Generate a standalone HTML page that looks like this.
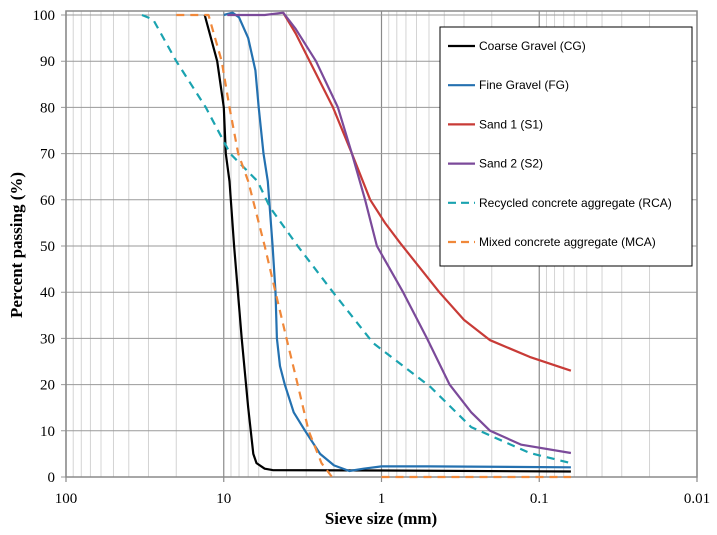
<!DOCTYPE html>
<html><head><meta charset="utf-8"><style>
body{margin:0;background:#fff;}
svg{display:block;}
</style></head><body>
<svg id="chart" width="717" height="535" xmlns="http://www.w3.org/2000/svg">
<g id="grid"></g>
<g id="axes"></g>
<g id="series"></g>
<text transform="translate(22,245) rotate(-90)" text-anchor="middle" font-family="Liberation Serif, serif" font-weight="bold" font-size="17">Percent passing (%)</text>
<text x="381" y="524" text-anchor="middle" font-family="Liberation Serif, serif" font-weight="bold" font-size="17">Sieve size (mm)</text>
<g id="legend"></g>
</svg>
<script>
const seriesNames=["Coarse Gravel (CG)","Fine Gravel (FG)","Sand 1 (S1)","Sand 2 (S2)","Recycled concrete aggregate (RCA)","Mixed concrete aggregate (MCA)"];
const seriesColors=["#000000","#2471b0","#c83b37","#7b4a9a","#1aa3b0","#f0883a"];
const cgSize=[13.2,11,10,9.7,9.2,8.6,7.7,7,6.5,6.2,5.5,4.9,1,0.063];
const cgPass=[100,90,80,70,64,50,30,15,5,3,1.8,1.5,1.4,1.2];
const fgSize=[10,8.8,8,7,6.3,6,5.6,5.26,4.9,4.7,4.6,4.4,4.1,3.6,3.05,2.45,2,1.6,1.3,1,0.5,0.063];
const fgPass=[100,100.5,99.5,95,88,80,70,64,50,40,30,24,20,14,10,5,2.5,1.3,1.8,2.3,2.3,2.1];
const s1Size=[4.2,3.5,2.03,1.54,1.18,0.95,0.76,0.43,0.3,0.205,0.115,0.063];
const s1Pass=[100.5,96,80,70,60,55,50.6,40,34,29.6,26,23];
const s2Size=[9.5,5.5,4.2,3.5,2.6,1.89,1.54,1.27,1.07,0.73,0.515,0.37,0.27,0.205,0.13,0.063];
const s2Pass=[100,100,100.5,97,90,80,70,60,50,40,30,20,14,10,7,5.2];
const rcaSize=[33,28,20,13,9.1,6.1,5.1,3.4,2.03,1.13,0.49,0.27,0.115,0.063];
const rcaPass=[100,99,90,80,70,64,58.4,50,40,29,19.5,10.8,5.2,3];
const mcaSize=[20,12.5,10.3,9.2,8.1,7,5.5,4.7,4,3.4,2.9,2.4,2.06,null,1,0.063];
const mcaPass=[100,100,90,80,70,64,50,40,30,20,10,3,0,null,0,0];
const xTicks=[100,10,1,0.1,0.01];
const xTickLabels=["100","10","1","0.1","0.01"];
const yTicks=[0,10,20,30,40,50,60,70,80,90,100];

const NS="http://www.w3.org/2000/svg";
const X0=66,X1=697,Y0=477,Y1=15,TOP=11;
function xs(v){return X0+(2-Math.log10(v))/4*(X1-X0);}
function ys(v){return Y0-v/100*(Y0-Y1);}
function mk(parent,tag,attrs){const e=document.createElementNS(NS,tag);for(const k in attrs)e.setAttribute(k,attrs[k]);parent.appendChild(e);return e;}
const grid=document.getElementById('grid'),axes=document.getElementById('axes'),ser=document.getElementById('series'),leg=document.getElementById('legend');
for(let d=100;d>0.011;d/=10){for(let m=2;m<=9;m++){const v=d/10*m;const x=xs(v);
const l=mk(grid,'line',{x1:x,x2:x,y1:TOP,y2:Y0,stroke:'#d4d4d4','stroke-width':1});

}}
xTicks.forEach((v,i)=>{const x=xs(v);
const l=mk(grid,'line',{x1:x,x2:x,y1:TOP,y2:Y0+5,stroke:'#8a8a8a','stroke-width':1.2});


const t=mk(axes,'text',{x:x,y:503,'text-anchor':'middle','font-family':'Liberation Serif, serif','font-size':15});
t.textContent=xTickLabels[i];

});
yTicks.forEach(v=>{const y=ys(v);
const l=mk(grid,'line',{x1:X0-5,x2:X1,y1:y,y2:y,stroke:'#9a9a9a','stroke-width':1});


const t=mk(axes,'text',{x:55,y:y+5,'text-anchor':'end','font-family':'Liberation Serif, serif','font-size':15});
t.textContent=v;

});
const frame=mk(axes,'rect',{x:X0,y:TOP,width:X1-X0,height:Y0-TOP,fill:'none',stroke:'#8a8a8a','stroke-width':1.5});


const all=[[cgSize,cgPass],[fgSize,fgPass],[s1Size,s1Pass],[s2Size,s2Pass],[rcaSize,rcaPass],[mcaSize,mcaPass]];
const dashed=[false,false,false,false,true,true];
all.forEach((s,i)=>{let d='',mv=true;
for(let j=0;j<s[0].length;j++){if(s[0][j]===null){mv=true;continue;}
d+=(mv?'M':'L')+xs(s[0][j]).toFixed(1)+','+ys(s[1][j]).toFixed(1);mv=false;}
const p=mk(ser,'path',{d:d,fill:'none',stroke:seriesColors[i],'stroke-width':2.2,'stroke-linejoin':'round'});
if(dashed[i])p.setAttribute('stroke-dasharray','8,6');

});
const box=mk(leg,'rect',{x:440,y:27,width:252,height:239,fill:'#fff',stroke:'#000','stroke-width':1});


seriesNames.forEach((n,i)=>{const y=46+i*39.2;
const l=mk(leg,'line',{x1:448,x2:475,y1:y,y2:y,stroke:seriesColors[i],'stroke-width':2.2});
if(dashed[i])l.setAttribute('stroke-dasharray','8,5');


const t=mk(leg,'text',{x:479,y:y+4,'font-family':'Liberation Sans, sans-serif','font-size':12});
t.textContent=n;

});
</script>
</body></html>
